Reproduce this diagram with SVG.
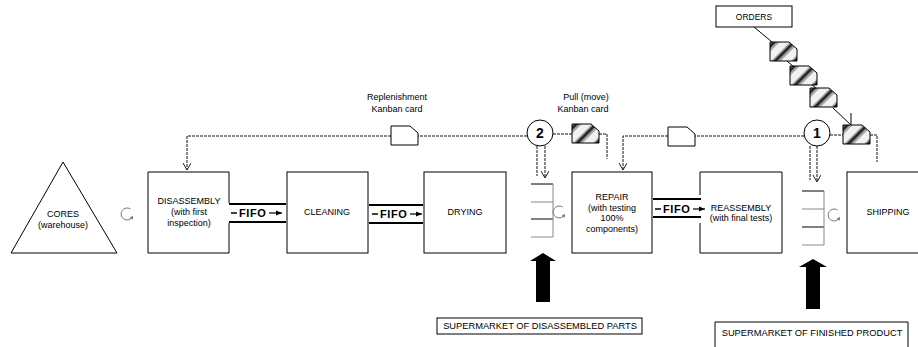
<svg xmlns="http://www.w3.org/2000/svg" width="918" height="347" viewBox="0 0 918 347">
<style>
text{font-family:"Liberation Sans",Arial,sans-serif;font-size:9px;fill:#000}
.box{fill:#fff;stroke:#000;stroke-width:1}
.dash{fill:none;stroke:#111;stroke-width:1;stroke-dasharray:3 1}
.solid{fill:none;stroke:#000;stroke-width:1}
.fifo{stroke:#000;stroke-width:2}
.fifot{font-weight:bold;font-size:11px;letter-spacing:0.6px}
.num{font-weight:bold;font-size:14px;text-anchor:middle}
.mid{text-anchor:middle}
.cyc{fill:none;stroke:#777;stroke-width:1}
.sm{stroke:#000;stroke-width:1}
.smg{stroke:#888;stroke-width:1}
</style>
<defs>
<pattern id="hatch" patternUnits="userSpaceOnUse" width="14" height="14" patternTransform="rotate(45)">
<rect width="14" height="14" fill="#f2f2f2"/>
<rect x="0" width="1.5" height="14" fill="#bbb"/>
<rect x="1.5" width="2.5" height="14" fill="#222"/>
<rect x="4" width="1.5" height="14" fill="#666"/>
<rect x="5.5" width="1.5" height="14" fill="#aaa"/>
</pattern>
<path id="card" d="M0,0 H19 L27,7 V19 H0 Z"/>
<marker id="va" markerUnits="userSpaceOnUse" markerWidth="10" markerHeight="10" refX="7" refY="4" orient="auto">
<path d="M0,0 L7,4 L0,8" fill="none" stroke="#222" stroke-width="1"/>
</marker>
<marker id="fa" markerUnits="userSpaceOnUse" markerWidth="8" markerHeight="8" refX="6" refY="3" orient="auto">
<path d="M0,0.5 L6,3 L0,5.5 Z" fill="#000"/>
</marker>
<g id="cycle">
<path class="cyc" d="M3.5,-5 A6,6 0 1 0 5,3.5"/>
<path d="M2.5,4 L6,5.5 L5.8,1.8 Z" fill="#777"/>
</g>
</defs>

<g id="connectors">
<path class="dash" d="M527,136 H187 V170" marker-end="url(#va)"/>
<path class="dash" d="M553,134 H572"/>
<path class="dash" d="M599,134 H607 V159"/>
<path class="dash" d="M804,136 H623 V170" marker-end="url(#va)"/>
<path class="dash" d="M830,135 H843"/>
<path class="dash" d="M870,135 H877 V162"/>
<path class="dash" d="M537,146 V176"/>
<path class="dash" d="M545,146 V178" marker-end="url(#va)"/>
<path class="dash" d="M810,146 V180"/>
<path class="dash" d="M817,146 V182" marker-end="url(#va)"/>
<path class="solid" d="M754,27 L772,42"/>
<path class="solid" d="M787,61 L794,67"/>
<path class="solid" d="M812,85 L816,88"/>
<path class="solid" d="M833,108 L851,125"/>
<path class="solid" d="M851,113 V125"/>
<g id="fifo1">
<line class="fifo" x1="229" y1="204" x2="286" y2="204"/>
<line class="fifo" x1="229" y1="222" x2="286" y2="222"/>
<line x1="231" y1="213" x2="237" y2="213" stroke="#000" stroke-width="1.5"/>
<text class="fifot" x="239" y="217">FIFO</text>
<line x1="269" y1="213" x2="282" y2="213" stroke="#000" stroke-width="1.2" marker-end="url(#fa)"/>
</g>
<g id="fifo2">
<line class="fifo" x1="369" y1="205" x2="423" y2="205"/>
<line class="fifo" x1="369" y1="223" x2="423" y2="223"/>
<line x1="372" y1="214" x2="378" y2="214" stroke="#000" stroke-width="1.5"/>
<text class="fifot" x="380" y="218">FIFO</text>
<line x1="410" y1="214" x2="422" y2="214" stroke="#000" stroke-width="1.2" marker-end="url(#fa)"/>
</g>
<g id="fifo3">
<line class="fifo" x1="653" y1="199" x2="701" y2="199"/>
<line class="fifo" x1="653" y1="217" x2="701" y2="217"/>
<line x1="655" y1="209" x2="661" y2="209" stroke="#000" stroke-width="1.5"/>
<text class="fifot" x="663" y="213">FIFO</text>
<line x1="693" y1="209" x2="705" y2="209" stroke="#000" stroke-width="1.2" marker-end="url(#fa)"/>
</g>
</g>

<g id="cores">
<polygon points="63,162 117,253 11,253" fill="#fff" stroke="#000" stroke-width="1"/>
<text class="mid" x="63" y="217">CORES</text>
<text class="mid" x="63" y="228">(warehouse)</text>
</g>
<use href="#cycle" x="127" y="214"/>

<g id="disassembly">
<path class="solid" d="M229,203 V172 H148 V253 H229 V223"/>
<text class="mid" x="189" y="204">DISASSEMBLY</text>
<text class="mid" x="189" y="215">(with first</text>
<text class="mid" x="189" y="226">inspection)</text>
</g>

<g id="cleaning">
<rect class="box" x="287" y="172" width="81" height="81"/>
<text class="mid" x="327" y="215">CLEANING</text>
</g>

<g id="drying">
<rect class="box" x="424" y="172" width="82" height="81"/>
<text class="mid" x="465" y="215">DRYING</text>
</g>

<g id="repair">
<rect class="box" x="572" y="172" width="80" height="81"/>
<text class="mid" x="612" y="200">REPAIR</text>
<text class="mid" x="612" y="211">(with testing</text>
<text class="mid" x="612" y="221">100%</text>
<text class="mid" x="612" y="232">components)</text>
</g>

<g id="reassembly">
<path class="solid" d="M700,195 V172 H782 V253 H700 V223"/>
<text class="mid" x="741" y="211">REASSEMBLY</text>
<text class="mid" x="741" y="221">(with final tests)</text>
</g>

<g id="shipping">
<rect class="box" x="847" y="172" width="80" height="81"/>
<text class="mid" x="888" y="215">SHIPPING</text>
</g>

<g id="orders">
<rect class="box" x="716" y="6" width="76" height="21"/>
<text class="mid" x="754" y="20" style="font-size:8.5px">ORDERS</text>
</g>

<g id="replenishment-card">
<text class="mid" x="397" y="100">Replenishment</text>
<text class="mid" x="397" y="112">Kanban card</text>
<use href="#card" x="391" y="126" fill="#fff" stroke="#000"/>
</g>

<g id="pull-card">
<text class="mid" x="586" y="100">Pull (move)</text>
<text class="mid" x="583" y="112">Kanban card</text>
<use href="#card" x="572" y="124" fill="url(#hatch)" stroke="#000"/>
</g>

<g id="card-repair">
<use href="#card" x="668" y="127" fill="#fff" stroke="#000"/>
</g>
<g id="card-ship">
<use href="#card" x="843" y="125" fill="url(#hatch)" stroke="#000"/>
</g>
<g id="order-cards">
<use href="#card" x="770" y="42" fill="url(#hatch)" stroke="#000"/>
<use href="#card" x="790" y="66" fill="url(#hatch)" stroke="#000"/>
<use href="#card" x="810" y="88" fill="url(#hatch)" stroke="#000"/>
</g>

<g id="circle2">
<circle cx="540" cy="133" r="13" fill="#fff" stroke="#000"/>
<text class="num" x="540" y="138">2</text>
</g>
<g id="circle1">
<circle cx="817" cy="133" r="13" fill="#fff" stroke="#000"/>
<text class="num" x="817" y="138">1</text>
</g>

<g id="supermarket-parts">
<line class="sm" x1="531" y1="184" x2="553" y2="184"/>
<line class="smg" x1="531" y1="202" x2="553" y2="202"/>
<line class="sm" x1="531" y1="219" x2="553" y2="219"/>
<line class="smg" x1="531" y1="237" x2="553" y2="237"/>
<line class="smg" x1="553" y1="184" x2="553" y2="237"/>
<use href="#cycle" x="559" y="212"/>
<polygon points="543,253 556,261 550,261 550,302 536,302 536,261 530,261" fill="#000"/>
<rect class="box" x="437" y="318" width="205" height="16"/>
<text class="mid" x="540" y="329" style="font-size:9.3px">SUPERMARKET OF DISASSEMBLED PARTS</text>
</g>

<g id="supermarket-product">
<line class="sm" x1="802" y1="191" x2="824" y2="191"/>
<line class="smg" x1="802" y1="209" x2="824" y2="209"/>
<line class="sm" x1="802" y1="227" x2="824" y2="227"/>
<line class="smg" x1="802" y1="245" x2="824" y2="245"/>
<line class="smg" x1="824" y1="191" x2="824" y2="245"/>
<use href="#cycle" x="834" y="215"/>
<polygon points="813,259 827,267 820,267 820,309 806,309 806,267 799,267" fill="#000"/>
<path class="solid" d="M715,350 V322 H908 V350"/>
<text class="mid" x="812" y="336" style="font-size:9.3px">SUPERMARKET OF FINISHED PRODUCT</text>
</g>
</svg>
